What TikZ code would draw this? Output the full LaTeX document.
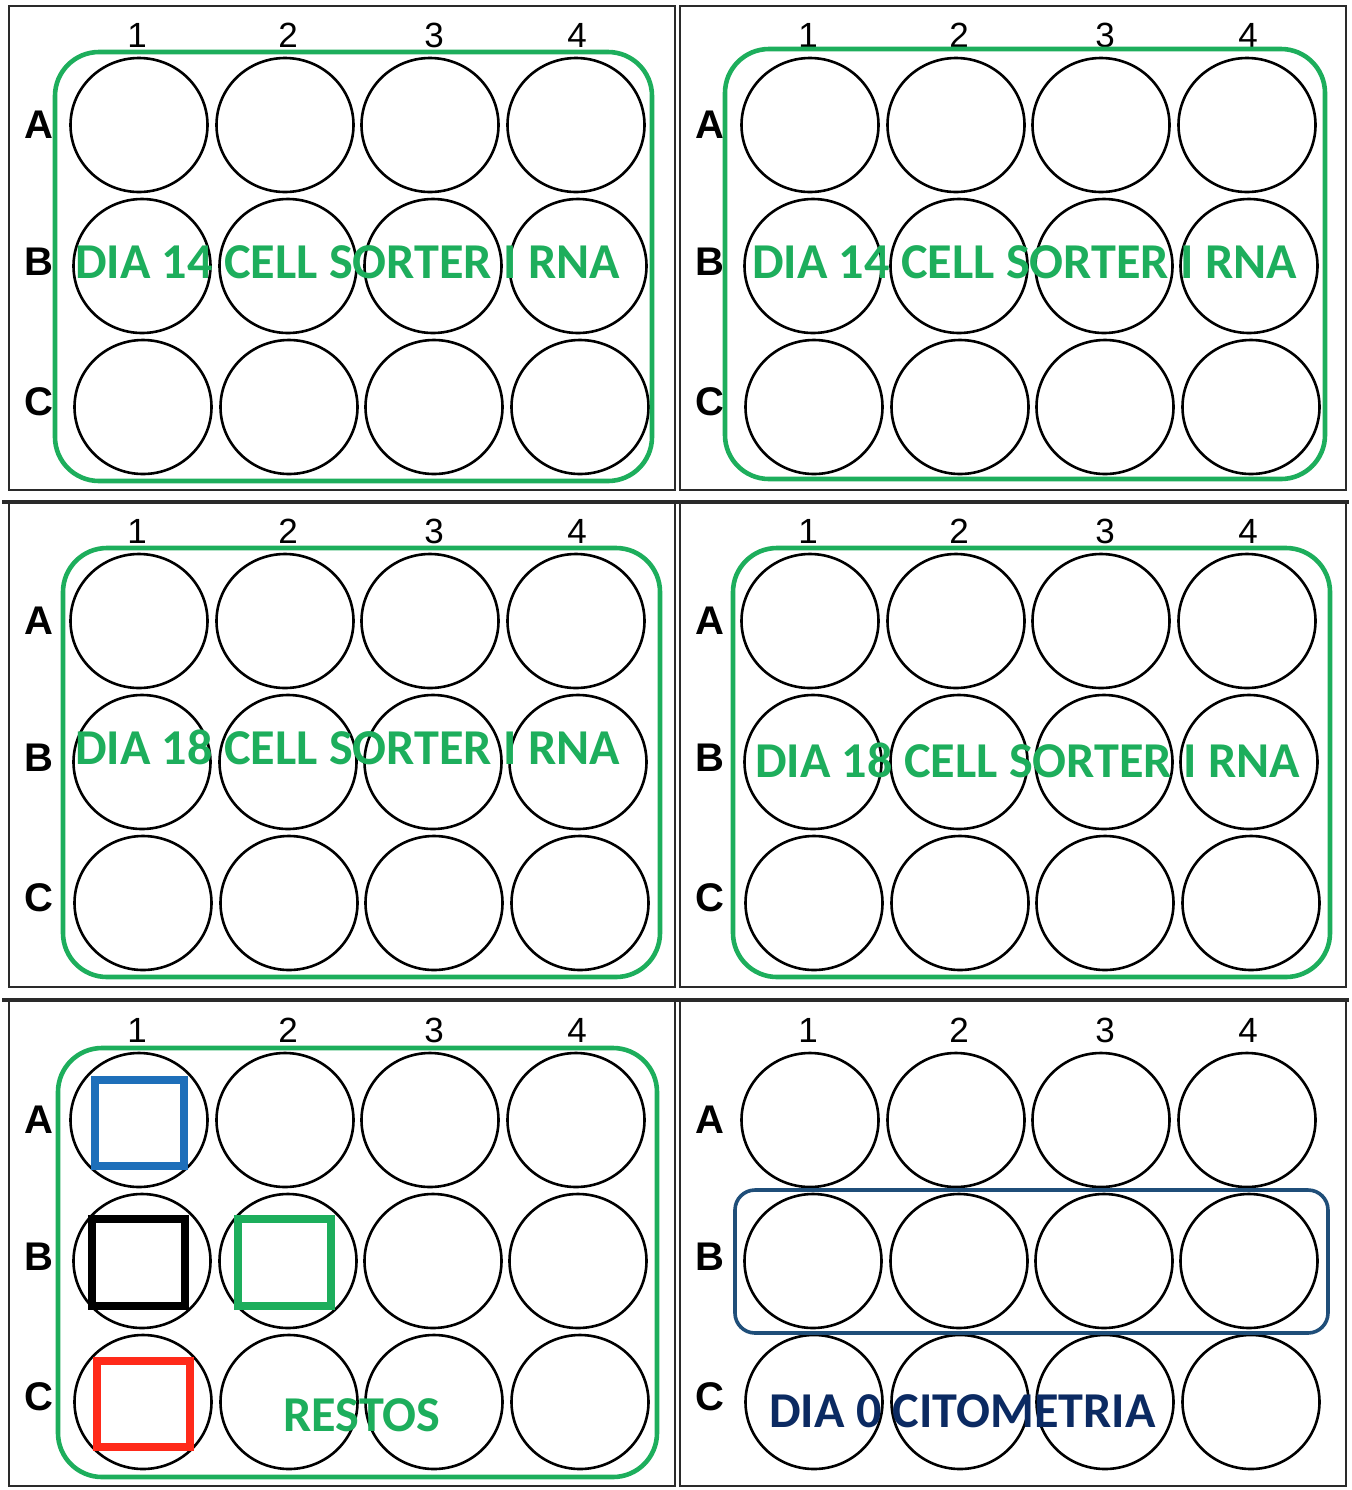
\documentclass[tikz,border=0pt]{standalone}
\usepackage{fontspec}
\setmainfont{Liberation Sans}
\newfontfamily\calib{Carlito}
\usetikzlibrary{shapes.geometric}
\definecolor{grn}{HTML}{1DAE5C}
\definecolor{navy}{HTML}{0B2A62}
\definecolor{dblue}{HTML}{1F4E79}
\definecolor{sqblue}{HTML}{1E6FBA}
\definecolor{sqred}{HTML}{FF2A1A}
\definecolor{frame}{HTML}{2A2A2A}
\tikzset{
  well/.style={draw=black, line width=1.3pt, ellipse, minimum width=68.5pt, minimum height=67pt, inner sep=0pt},
  panel/.style={draw=frame, line width=1.3pt},
  divider/.style={draw=frame, line width=1.7pt},
  grouprect/.style={draw=grn, line width=2.3pt, rounded corners=22pt},
  dayrect/.style={draw=dblue, line width=1.8pt, rounded corners=10pt},
  collab/.style={font=\fontsize{17.5}{17.5}\selectfont, inner sep=0pt},
  rowlab/.style={font=\fontsize{20}{20}\selectfont\bfseries, inner sep=0pt},
  gtext/.style={text=grn, font=\calib\bfseries\fontsize{25.1}{26}\selectfont, inner sep=0pt, anchor=base},
  ntext/.style={text=navy, font=\calib\bfseries\fontsize{25.1}{26}\selectfont, inner sep=0pt, anchor=base},
  sq/.style={line width=3.6pt}
}
\begin{document}
\begin{tikzpicture}[x=0.5pt,y=-0.5pt]
\useasboundingbox (0,0) rectangle (1351,1490);
\fill[white] (0,0) rectangle (1351,1490);
% panel frames
\draw[panel] (9,6) rectangle (675,490);
\draw[panel] (680,6) rectangle (1346,490);
\draw[panel] (9,502) rectangle (675,987);
\draw[panel] (680,502) rectangle (1346,987);
\draw[panel] (9,1000) rectangle (675,1486);
\draw[panel] (680,1000) rectangle (1346,1486);
\draw[divider] (2,502) -- (1349,502);
\draw[divider] (2,1000) -- (1349,1000);
% wells and labels
\foreach \p/\dx/\dy in {p1/0/0, p2/671/0, p3/0/496, p4/671/496, p5/0/995, p6/671/995}{
  \foreach \c/\xa/\xb/\xc/\lx in {1/139/142/143/137, 2/285/288/289/288, 3/430/433/434/434, 4/576/578/580/577}{
    \node[well] (\p-A\c) at (\xa+\dx,125+\dy) {};
    \node[well] (\p-B\c) at (\xb+\dx,266+\dy) {};
    \node[well] (\p-C\c) at (\xc+\dx,407+\dy) {};
    \node[collab] (\p-n\c) at (\lx+\dx,35+\dy) {\c};
  }
  \node[rowlab] (\p-lA) at (39+\dx,125+\dy) {A};
  \node[rowlab] (\p-lB) at (39+\dx,262+\dy) {B};
  \node[rowlab] (\p-lC) at (39+\dx,402+\dy) {C};
}
% group rectangles
\draw[grouprect] (55,52) rectangle (652,481);
\draw[grouprect] (725,49) rectangle (1325,479);
\draw[grouprect] (63,548) rectangle (660,977);
\draw[grouprect] (733,548) rectangle (1330,977);
\draw[grouprect] (58,1048) rectangle (657,1477);
\draw[dayrect] (735,1190) rectangle (1328,1333);
% texts
\node[gtext] (t1) at (347.5,278) {DIA 14 CELL SORTER I RNA};
\node[gtext] (t2) at (1024.5,278) {DIA 14 CELL SORTER I RNA};
\node[gtext] (t3) at (347.5,764) {DIA 18 CELL SORTER I RNA};
\node[gtext] (t4) at (1027.5,777) {DIA 18 CELL SORTER I RNA};
\node[gtext] (t5) at (362,1431) {RESTOS};
\node[ntext] (t6) at (962.5,1427) {DIA 0 CITOMETRIA};
% squares in first wells
\draw[sq, draw=sqblue] (95,1080) rectangle (184,1166);
\draw[sq, draw=black] (92,1219) rectangle (185,1306);
\draw[sq, draw=grn] (238,1219) rectangle (331,1306);
\draw[sq, draw=sqred] (97,1361) rectangle (190,1447);
\end{tikzpicture}
\end{document}
